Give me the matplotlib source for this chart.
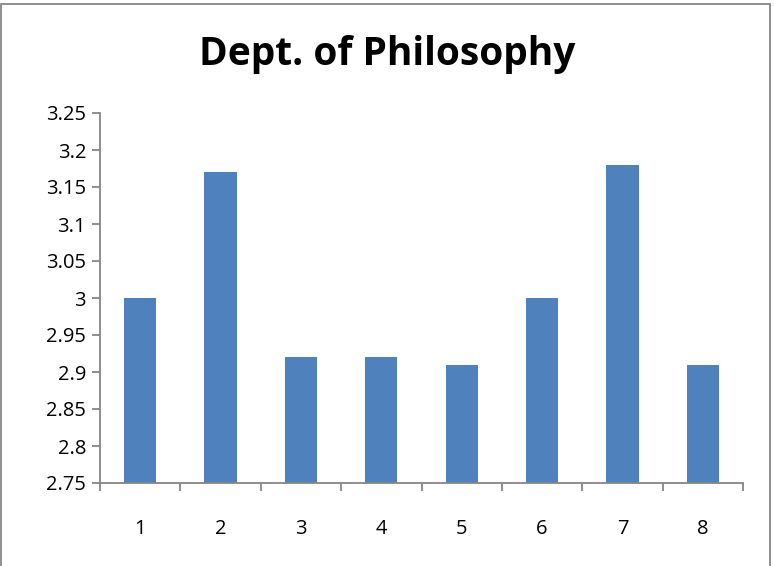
import matplotlib
matplotlib.use("Agg")
import matplotlib.pyplot as plt
from matplotlib.patches import Rectangle
import numpy as np

categories = ["1", "2", "3", "4", "5", "6", "7", "8"]
values = [3.00, 3.17, 2.92, 2.92, 2.91, 3.00, 3.18, 2.91]
yticks = [2.75, 2.8, 2.85, 2.9, 2.95, 3.0, 3.05, 3.1, 3.15, 3.2, 3.25]
ytick_labels = ["2.75", "2.8", "2.85", "2.9", "2.95", "3", "3.05", "3.1", "3.15", "3.2", "3.25"]

plt.rcParams['font.family'] = ['Open Sans', 'DejaVu Sans']

fig = plt.figure(figsize=(7.74, 5.66), dpi=100)
ax = fig.add_axes([100/774, 1-483/566, (743-100)/774, (483-113)/566])

x = np.arange(len(categories))
base = 2.75
ax.bar(x, np.array(values) - base, bottom=base, width=0.4, color="#4F81BD")

ax.set_xlim(-0.5, len(categories) - 0.5)
ax.set_ylim(2.75, 3.25)
ax.set_yticks(yticks)
ax.set_yticklabels(ytick_labels, fontsize=14.5)
ax.set_xticks(x)
ax.set_xticklabels(categories, fontsize=14.5)
ax.set_xticks(np.arange(len(categories) + 1) - 0.5, minor=True)
ax.tick_params(axis='x', which='major', length=0, pad=26)
ax.tick_params(axis='x', which='minor', length=6, color="#868686", width=1.3, direction='out')
ax.tick_params(axis='y', length=6, color="#868686", width=1.3, direction='out', pad=4)

for s in ['top', 'right']:
    ax.spines[s].set_visible(False)
for s in ['left', 'bottom']:
    ax.spines[s].set_color("#868686")
    ax.spines[s].set_linewidth(1.3)

fig.text(387/774, 1-55/566, "Dept. of Philosophy", ha='center', va='center',
         fontsize=28, fontweight='bold')

fig.patches.append(Rectangle((1/774, -0.01), 769/774, 1 - 4/566 + 0.01, transform=fig.transFigure,
                             fill=False, edgecolor="#868686", linewidth=1.3))

fig.savefig("out.png", dpi=100)
